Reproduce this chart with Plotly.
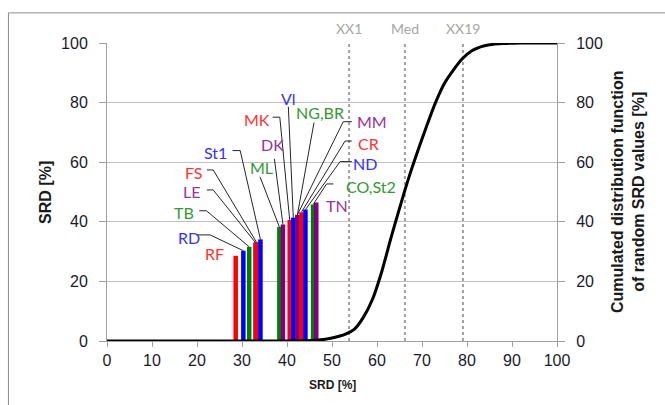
import plotly.graph_objects as go

# ---- data ----
names = ["RF", "RD", "TB", "LE", "FS", "St1", "ML", "DK", "MK", "Vl",
         "NG,BR", "MM", "CR", "ND", "CO,St2", "TN"]
srd = [28.6, 30.3, 31.6, 33.0, 33.2, 34.1, 38.3, 39.1, 40.6, 41.4,
       42.3, 42.3, 43.2, 44.1, 45.8, 46.5]
cdf_x = [0, 40, 44, 47, 50, 53, 55, 57, 59, 61, 63, 65, 67, 69, 71, 73,
         75, 77, 79, 81, 83, 85, 88, 92, 100]
cdf_y = [0, 0, 0.1, 0.3, 1, 2.3, 4, 8, 14, 23, 34, 44.5, 54.5, 63.5, 72, 80,
         86.5, 91, 94.8, 97.3, 98.7, 99.4, 99.8, 100, 100]
ref_names = ["XX1", "Med", "XX19"]
ref_x = [53.8, 66.2, 79.1]
x_ticks = list(range(0, 101, 10))
y_ticks = list(range(0, 101, 20))

# ---- styles ----
bar_cycle = ["#ff0000", "#0000ff", "#008000", "#800080"]
txt_cycle = ["#ff3333", "#3333ff", "#339933", "#9933a0"]
bar_colors = [bar_cycle[i % 4] for i in range(len(names))]
txt_colors = [txt_cycle[i % 4] for i in range(len(names))]

# label positions (data coords) and leader line start/elbow
label_pos = {
    "RF": (23.8, 29.2), "RD": (18.2, 34.6), "TB": (17.0, 43.0),
    "LE": (18.8, 50.2), "FS": (19.2, 56.5), "St1": (24.0, 63.1),
    "ML": (34.4, 58.1), "DK": (36.7, 65.8), "MK": (33.3, 74.2),
    "Vl": (40.3, 81.5), "NG,BR": (47.3, 76.8), "MM": (58.9, 73.5),
    "CR": (58.2, 66.4), "ND": (57.3, 59.7), "CO,St2": (58.6, 52.0),
    "TN": (51.1, 45.6),
}
leader = {
    "RD": [(19.8, 35.6), (22.9, 35.6)],
    "TB": [(20.5, 43.7), (22.1, 43.7)],
    "LE": [(22.2, 50.7), (23.6, 50.7)],
    "FS": [(22.2, 57.4), (23.6, 57.4)],
    "St1": [(27.9, 63.9), (29.6, 63.9)],
    "ML": [(34.0, 55.1)],
    "DK": [(37.2, 61.1)],
    "MK": [(36.8, 75.1), (38.4, 75.1)],
    "Vl": [(40.3, 78.6)],
    "NG,BR": [(46.0, 73.3)],
    "MM": [(54.4, 73.6), (52.5, 73.6)],
    "CR": [(54.4, 67.1), (52.9, 67.1)],
    "ND": [(54.4, 60.2), (51.8, 60.2)],
    "CO,St2": [(50.3, 52.7), (48.8, 52.7)],
}

fig = go.Figure()

for i, n in enumerate(names):
    if n in leader:
        pts = leader[n] + [(srd[i], srd[i])]
        fig.add_trace(go.Scatter(
            x=[p[0] for p in pts], y=[p[1] for p in pts], mode="lines",
            line=dict(color="#262626", width=1), hoverinfo="skip",
            showlegend=False))

fig.add_trace(go.Bar(
    x=srd, y=srd, width=[1.0] * len(srd),
    marker=dict(color=bar_colors, line=dict(width=0)), showlegend=False))

fig.add_trace(go.Scatter(
    x=cdf_x, y=cdf_y, mode="lines", yaxis="y2",
    line=dict(color="black", width=3, shape="spline", smoothing=0.8),
    showlegend=False))

annotations = []
for i, n in enumerate(names):
    lx, ly = label_pos[n]
    annotations.append(dict(x=lx, y=ly, xref="x", yref="y", text=n, showarrow=False,
                            font=dict(family="Lato", size=16, color=txt_colors[i])))
for n, xv in zip(ref_names, ref_x):
    annotations.append(dict(x=xv, y=1.048, xref="x", yref="paper", text=n, showarrow=False,
                            xanchor="center", yanchor="middle",
                            font=dict(family="Lato", size=14, color="#a6a6a6")))
title_font = dict(family="Liberation Sans", size=16, color="#1a1a1a")
annotations += [
    dict(x=-0.138, y=0.5, xref="paper", yref="paper", text="<b>SRD [%]</b>", textangle=-90,
         xanchor="center", yanchor="middle", showarrow=False, font=title_font),
    dict(x=1.158, y=0.5, xref="paper", yref="paper",
         text="<b>Cumulated distribution function<br>of random SRD values [%]</b>", textangle=-90,
         xanchor="center", yanchor="middle", showarrow=False, font=title_font),
    dict(x=0.5, y=-0.148, xref="paper", yref="paper", text="<b>SRD [%]</b>",
         xanchor="center", yanchor="middle", showarrow=False,
         font=dict(family="Liberation Sans", size=12, color="#1a1a1a")),
]

shapes = []
for xv in ref_x:
    shapes.append(dict(type="line", xref="x", yref="y", x0=xv, x1=xv, y0=0, y1=100,
                       line=dict(color="#a0a0a0", width=2, dash="dot"), layer="below"))
shapes.append(dict(type="rect", xref="paper", yref="paper", x0=-0.219, x1=1.26, y0=-0.25, y1=1.101,
                   line=dict(color="#8c8c8c", width=1), fillcolor="rgba(0,0,0,0)"))

tickfont = dict(family="Liberation Sans", size=16, color="#1a1a2e")
axis_common = dict(range=[0, 100], ticks="outside", tickcolor="#a0a0a0", showline=True,
                   linecolor="#a0a0a0", zeroline=False, tickfont=tickfont)
fig.update_layout(
    width=665, height=405, margin=dict(l=107, r=108, t=43, b=64),
    paper_bgcolor="white", plot_bgcolor="white", barmode="overlay",
    xaxis=dict(tickvals=x_ticks, ticklen=5, showgrid=False, **axis_common),
    yaxis=dict(tickvals=y_ticks, ticklen=7, ticklabelstandoff=8, showgrid=True,
               gridcolor="#bfbfbf", **axis_common),
    yaxis2=dict(tickvals=y_ticks, ticklen=7, ticklabelstandoff=8, showgrid=False,
                overlaying="y", side="right", **axis_common),
    annotations=annotations, shapes=shapes,
)

fig.write_html("out.html")
